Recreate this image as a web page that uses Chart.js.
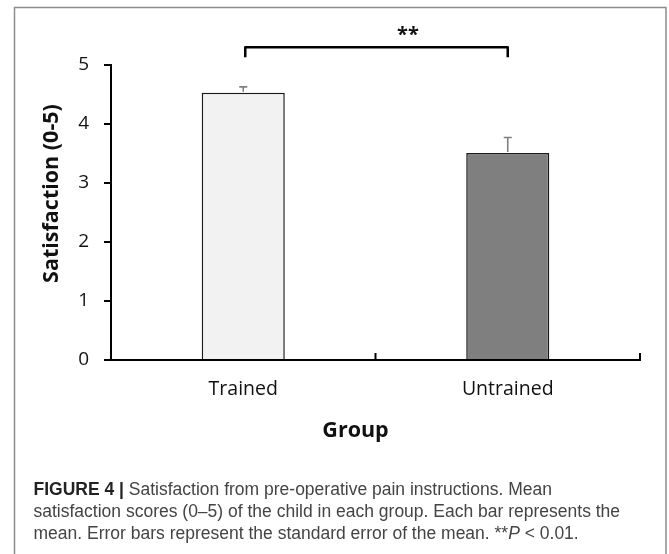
<!DOCTYPE html>
<html>
<head>
<meta charset="utf-8">
<script src="https://cdn.jsdelivr.net/npm/chart.js@4.4.0/dist/chart.umd.min.js"></script>
<style>
html,body{margin:0;padding:0;background:#fff;overflow:hidden}
#wrap{position:relative;width:669px;height:554px}
</style>
</head>
<body>
<div id="wrap"><canvas id="c" width="669" height="554"></canvas></div>
<script>
// ---- data ----
const categories = ['Trained', 'Untrained'];
const meanValues = [4.53, 3.51];
const seValues = [0.10, 0.26];
const yTickValues = [0, 1, 2, 3, 4, 5];
const yAxisTitle = 'Satisfaction (0-5)';
const xAxisTitle = 'Group';
const significanceLabel = '**';
const captionBold = 'FIGURE 4 | ';
const captionLine1 = 'Satisfaction from pre-operative pain instructions. Mean';
const captionLine2 = 'satisfaction scores (0–5) of the child in each group. Each bar represents the';
const captionLine3a = 'mean. Error bars represent the standard error of the mean. ';
const captionLine3b = '**';
const captionLine3c = 'P';
const captionLine3d = ' < 0.01.';

const barFill = ['#f2f2f2', '#7f7f7f'];

const extras = {
  id: 'extras',
  beforeDraw(chart) {
    const ctx = chart.ctx;
    ctx.save();
    ctx.fillStyle = '#fff';
    ctx.fillRect(0, 0, chart.width, chart.height);
    ctx.restore();
  },
  afterDatasetsDraw(chart) {
    const ctx = chart.ctx;
    const y = chart.scales.y;
    const meta = chart.getDatasetMeta(0);
    ctx.save();
    ctx.strokeStyle = '#7f7f7f';
    ctx.lineWidth = 1.6;
    meta.data.forEach((bar, i) => {
      const cx = bar.x;
      const y0 = y.getPixelForValue(meanValues[i]);
      const y1 = y.getPixelForValue(meanValues[i] + seValues[i]);
      ctx.beginPath();
      ctx.moveTo(cx, y0 - 1);
      ctx.lineTo(cx, y1);
      ctx.moveTo(cx - 4, y1);
      ctx.lineTo(cx + 4, y1);
      ctx.stroke();
    });
    ctx.restore();
  },
  afterDraw(chart) {
    const ctx = chart.ctx;
    const x = chart.scales.x;
    const y = chart.scales.y;
    const meta = chart.getDatasetMeta(0);
    const area = chart.chartArea;
    ctx.save();
    // inward x-axis ticks at category boundaries
    ctx.strokeStyle = '#000';
    ctx.lineWidth = 2;
    const p0 = x.getPixelForValue(0), p1 = x.getPixelForValue(1);
    const half = (p1 - p0) / 2;
    [p0 + half, p1 + half].forEach(px => {
      ctx.beginPath();
      ctx.moveTo(px, area.bottom);
      ctx.lineTo(px, area.bottom - 7);
      ctx.stroke();
    });
    // significance bracket
    const bx0 = meta.data[0].x + 2, bx1 = meta.data[1].x;
    const byTop = y.getPixelForValue(5.3), byBot = y.getPixelForValue(5.13);
    ctx.lineWidth = 2.5;
    ctx.lineJoin = 'round';
    ctx.beginPath();
    ctx.moveTo(bx0, byBot);
    ctx.lineTo(bx0, byTop);
    ctx.lineTo(bx1, byTop);
    ctx.lineTo(bx1, byBot);
    ctx.stroke();
    ctx.fillStyle = '#111';
    ctx.font = 'bold 20px "Open Sans"';
    ctx.textAlign = 'center';
    ctx.textBaseline = 'alphabetic';
    ctx.fillText(significanceLabel, 408, 41);
    // axis titles
    ctx.font = 'bold 21.5px "Open Sans"';
    ctx.fillText(xAxisTitle, 355.5, 437);
    ctx.save();
    ctx.translate(58, 193.5);
    ctx.rotate(-Math.PI / 2);
    ctx.fillText(yAxisTitle, 0, 0);
    ctx.restore();
    // caption
    ctx.textAlign = 'left';
    ctx.textBaseline = 'middle';
    ctx.font = '16px "Liberation Sans"';
    const fs = 16 * 587 / ctx.measureText(captionLine2).width;
    const cx = 33.5;
    ctx.font = 'bold ' + fs + 'px "Liberation Sans"';
    ctx.fillStyle = '#222';
    ctx.fillText(captionBold, cx, 490);
    const wb = ctx.measureText(captionBold).width;
    ctx.font = fs + 'px "Liberation Sans"';
    ctx.fillStyle = '#444';
    ctx.fillText(captionLine1, cx + wb, 490);
    ctx.fillText(captionLine2, cx, 512);
    let xx = cx;
    ctx.fillText(captionLine3a, xx, 534); xx += ctx.measureText(captionLine3a).width;
    ctx.fillText(captionLine3b, xx, 534); xx += ctx.measureText(captionLine3b).width;
    ctx.font = 'italic ' + fs + 'px "Liberation Sans"';
    ctx.fillText(captionLine3c, xx, 534); xx += ctx.measureText(captionLine3c).width;
    ctx.font = fs + 'px "Liberation Sans"';
    ctx.fillText(captionLine3d, xx, 534);
    // frame
    ctx.strokeStyle = '#8c8c8c';
    ctx.lineWidth = 1.5;
    ctx.strokeRect(14.5, 7.5, 651.5, 560);
    ctx.restore();
  }
};

new Chart(document.getElementById('c'), {
  type: 'bar',
  data: {
    labels: categories,
    datasets: [{
      label: 'Satisfaction',
      data: meanValues,
      backgroundColor: barFill,
      borderColor: '#1a1a1a',
      borderWidth: 1.5,
      categoryPercentage: 1,
      barPercentage: 0.314
    }]
  },
  options: {
    responsive: false,
    animation: false,
    devicePixelRatio: 1,
    layout: { padding: { top: 65, right: 29, left: 0, bottom: 0 } },
    plugins: { legend: { display: false }, tooltip: { enabled: false } },
    scales: {
      x: {
        afterFit(s) { s.height = 194; },
        grid: { display: false, drawTicks: false },
        border: { display: true, color: '#000', width: 2 },
        ticks: { color: '#111', padding: 18, font: { family: 'Open Sans', size: 19.5 } },
        title: { display: false, text: xAxisTitle }
      },
      y: {
        min: 0, max: 5,
        afterFit(s) { s.width = 111; },
        afterBuildTicks(s) { s.ticks = yTickValues.map(v => ({ value: v })); },
        grid: { display: true, drawOnChartArea: false, drawTicks: true, tickLength: 7, color: '#000', lineWidth: 2 },
        border: { display: true, color: '#000', width: 2 },
        ticks: { stepSize: 1, color: '#111', padding: 15, font: { family: 'Open Sans', size: 19 } },
        title: { display: false, text: yAxisTitle }
      }
    }
  },
  plugins: [extras]
});
</script>
</body>
</html>
